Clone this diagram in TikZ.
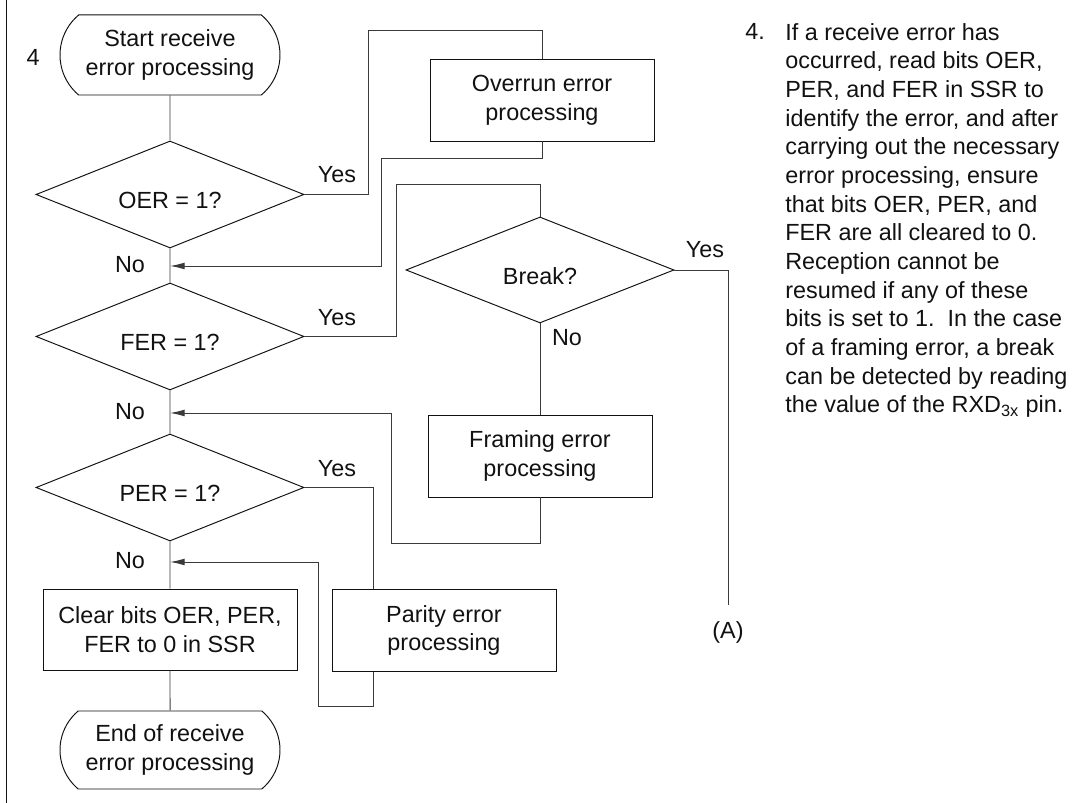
\documentclass[tikz,border=0pt]{standalone}
\usepackage{fontspec}
\setmainfont{Liberation Sans}
\usetikzlibrary{arrows.meta,shapes.geometric,shapes.misc}
\definecolor{ink}{HTML}{111111}
\definecolor{wire}{HTML}{3A3A3A}
\tikzset{
  term/.style={
    draw=ink,rounded rectangle,rounded rectangle arc length=100,line width=0.55pt,
    minimum width=4.4cm,minimum height=1.6cm,inner sep=0pt,align=center
  },
  decision/.style={
    draw=ink,diamond,shape aspect=2.5,line width=0.55pt,text height=0.58cm,text depth=0cm,
    minimum width=5.36cm,minimum height=2.14cm,inner sep=0pt
  },
  proc/.style={
    draw=ink,rectangle,line width=0.55pt,
    minimum width=4.48cm,minimum height=1.64cm,inner sep=0pt,align=center
  },
  flow/.style={draw=wire,line width=0.55pt},
  arrow/.style={flow,-{Latex[length=2.9mm,width=1.35mm]}}
}

\begin{document}
\begin{tikzpicture}[x=1cm,y=1cm,text=ink,font=\fontsize{13.3}{16.3}\selectfont]
\useasboundingbox (0,0) rectangle (21.84,16.06);
\draw[ink,line width=0.6pt] (0.13,0) -- (0.13,16.06);

% main column
\node[term] (start) at (3.40,14.96) {Start receive\\error processing};
\node[decision] (oer) at (3.40,12.17) {OER = 1?};
\node[decision] (fer) at (3.40,9.33) {FER = 1?};
\node[decision] (per) at (3.40,6.31) {PER = 1?};
\node[proc,minimum width=5.08cm,minimum height=1.62cm] (clear) at (3.40,3.47)
  {Clear bits OER, PER,\\FER to 0 in SSR};
\node[term,minimum height=1.56cm] (finish) at (3.40,1.06) {End of receive\\error processing};
\node (step4) at (0.66,14.92) {4};

% error branches
\node[proc] (overrun) at (10.84,14.06) {Overrun error\\processing};
\node[decision,minimum height=2.12cm] (brk) at (10.80,10.66) {Break?};
\node[proc] (framing) at (10.80,6.94) {Framing error\\processing};
\node[proc] (parity) at (8.88,3.45) {Parity error\\processing};
\node (exitA) at (14.56,3.42) {(A)};

\coordinate (m1) at (3.40,10.74);
\coordinate (m2) at (3.40,7.80);
\coordinate (m3) at (3.40,4.82);
\coordinate (py) at (7.46,0);
\coordinate (aout) at (14.56,3.96);

\draw[flow] (start) -- (oer) -- (fer) -- (per) -- (clear) -- (finish);

\draw[flow] (oer.east) -| (7.36,15.44) -| (overrun.north);
\draw[arrow] (overrun.south) |- (7.62,12.90) |- (m1);
\draw[flow] (fer.east) -| (7.92,12.38) -| (brk.north);
\draw[flow] (brk.east) -| (aout);
\draw[flow] (brk) -- (framing);
\draw[arrow] (framing.south) |- (7.82,5.20) |- (m2);
\draw[flow] (per.east) -| (py |- parity.north);
\draw[arrow] (py |- parity.south) |- (6.36,1.94) |- (m3);

\foreach \name/\pos in {y1/{6.74,12.56}, y2/{6.74,9.70}, y3/{6.74,6.68}, y4/{14.10,11.06}}
  \node (\name) at (\pos) {Yes};
\foreach \name/\pos in {n1/{2.60,10.76}, n2/{2.60,7.82}, n3/{2.60,4.84}, n4/{11.34,9.30}}
  \node (\name) at (\pos) {No};

% note text
\node[anchor=north west,inner sep=0pt] (notenum) at (14.90,15.60) {4.};
\node[anchor=north west,align=left,inner sep=0pt] (note) at (15.70,15.60) {
  If a receive error has\\
  occurred, read bits OER,\\
  PER, and FER in SSR to\\
  identify the error, and after\\
  carrying out the necessary\\
  error processing, ensure\\
  that bits OER, PER, and\\
  FER are all cleared to 0.\\
  Reception cannot be\\
  resumed if any of these\\
  bits is set to 1.\ \ In the case\\
  of a framing error, a break\\
  can be detected by reading\\
  the value of the RXD\textsubscript{3x} pin.};

\end{tikzpicture}
\end{document}
